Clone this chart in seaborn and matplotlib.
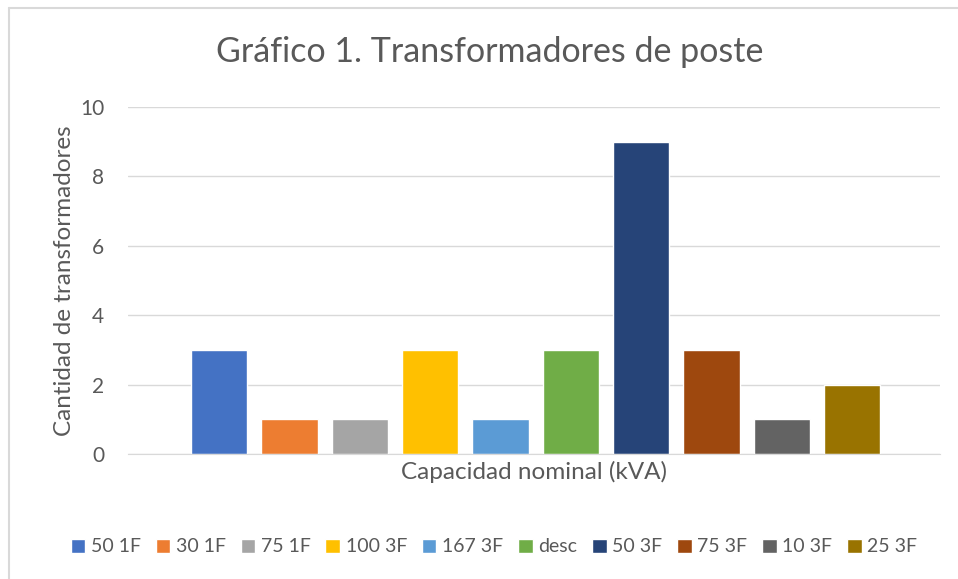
import matplotlib
matplotlib.use('Agg')
import matplotlib.pyplot as plt
from matplotlib.lines import Line2D
import seaborn as sns
import pandas as pd

# Datos del gráfico
capacidades = ['50 1F', '30 1F', '75 1F', '100 3F', '167 3F', 'desc', '50 3F', '75 3F', '10 3F', '25 3F']
cantidades = [3, 1, 1, 3, 1, 3, 9, 3, 1, 2]
colores = ['#4472C4', '#ED7D31', '#A5A5A5', '#FFC000', '#5B9BD5',
           '#70AD47', '#264478', '#9E480E', '#636363', '#997300']
y_ticks = [0, 2, 4, 6, 8, 10]

df = pd.DataFrame({'capacidad': capacidades, 'cantidad': cantidades})

sns.set_style('white')
plt.rcParams['font.family'] = ['Lato', 'DejaVu Sans']
gris = '#595959'

fig = plt.figure(figsize=(9.58, 5.79), dpi=100)
W, H = 958, 579
ax = fig.add_axes([128 / W, 1 - 454 / H, (940 - 128) / W, (454 - 107) / H])

sns.barplot(data=df, x='capacidad', y='cantidad', hue='capacidad',
            palette=colores, order=capacidades, hue_order=capacidades,
            width=0.8, dodge=False, legend=True, saturation=1, ax=ax)

ax.set_ylim(0, 10)
ax.set_xlim(-1.295, 10.25)
ax.set_yticks(y_ticks)
ax.set_yticklabels([str(t) for t in y_ticks], color=gris, fontsize=15)
ax.set_xticks([])
ax.yaxis.grid(True, color='#d9d9d9', linewidth=1)
ax.set_axisbelow(True)
for s in ['top', 'right', 'left']:
    ax.spines[s].set_visible(False)
ax.spines['bottom'].set_color('#d9d9d9')
ax.tick_params(axis='y', length=0, pad=17)

ax.set_ylabel('Cantidad de transformadores', color=gris, fontsize=17.5, labelpad=4)
ax.set_xlabel('Capacidad nominal (kVA)', color=gris, fontsize=17.5, labelpad=5)

fig.text(490 / W, 1 - 52 / H, 'Gráfico 1. Transformadores de poste',
         ha='center', va='center', color=gris, fontsize=24.5)

# Leyenda inferior
handles, labels = ax.get_legend_handles_labels()
ax.legend(handles, labels, loc='center', bbox_to_anchor=(494 / W, 1 - 547 / H),
          bbox_transform=fig.transFigure, ncol=10, frameon=False,
          fontsize=14, labelcolor=gris, handlelength=0.75, handleheight=0.75,
          handletextpad=0.3, columnspacing=0.75)

# Borde del área del gráfico
fig.add_artist(Line2D([9 / W, 1], [1 - 8 / H, 1 - 8 / H], transform=fig.transFigure,
                      color='#d9d9d9', linewidth=1.5))
fig.add_artist(Line2D([9 / W, 9 / W], [0, 1 - 8 / H], transform=fig.transFigure,
                      color='#d9d9d9', linewidth=1.5))

fig.savefig('out.png', dpi=100)
